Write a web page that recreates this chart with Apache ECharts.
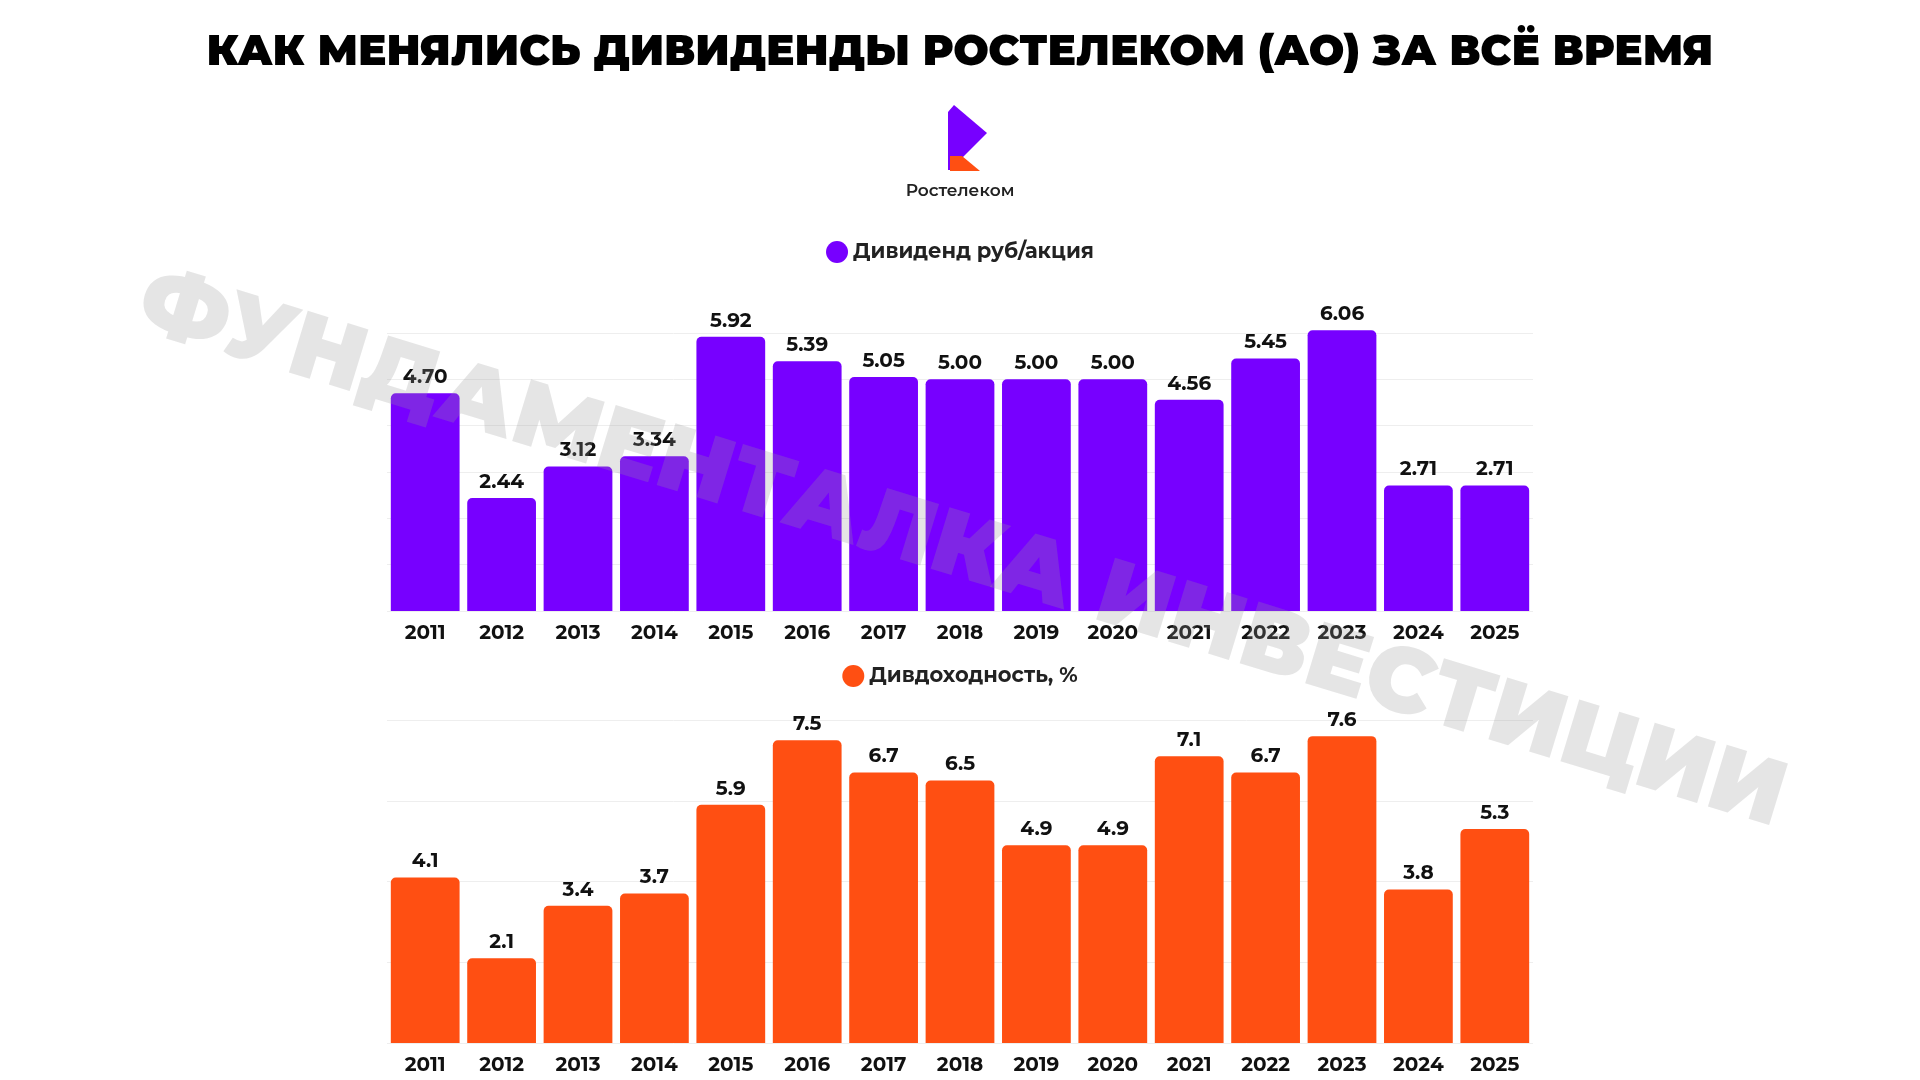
<!DOCTYPE html>
<html>
<head>
<meta charset="utf-8">
<script src="https://cdn.jsdelivr.net/npm/echarts@6/dist/echarts.min.js"></script>
<style>
  html, body { margin: 0; padding: 0; background: #fff; }
  #chart { width: 1920px; height: 1080px; }
</style>
</head>
<body>
<div id="chart"></div>
<script>
var years = ['2011', '2012', '2013', '2014', '2015', '2016', '2017', '2018', '2019', '2020', '2021', '2022', '2023', '2024', '2025'];
var dividend = [4.70, 2.44, 3.12, 3.34, 5.92, 5.39, 5.05, 5.00, 5.00, 5.00, 4.56, 5.45, 6.06, 2.71, 2.71];
var yieldPct = [4.1, 2.1, 3.4, 3.7, 5.9, 7.5, 6.7, 6.5, 4.9, 4.9, 7.1, 6.7, 7.6, 3.8, 5.3];

var purple = '#7700ff';
var orange = '#ff4f12';
var font = 'Montserrat, "Noto Sans", sans-serif';

var myChart = echarts.init(document.getElementById('chart'));

function xAxisOf(idx) {
    return {
        type: 'category', gridIndex: idx, data: years,
        axisLine: { show: false }, axisTick: { show: false },
        axisLabel: { color: '#111', fontSize: 20, fontWeight: 'bold', fontFamily: font, margin: 12 }
    };
}
function yAxisOf(idx, max, interval) {
    return {
        type: 'value', gridIndex: idx, min: 0, max: max, interval: interval,
        axisLabel: { show: false }, axisLine: { show: false }, axisTick: { show: false },
        splitLine: { lineStyle: { color: '#eeeeee', width: 1 } }
    };
}
function barOf(name, idx, data, color, digits) {
    return {
        name: name, type: 'bar', xAxisIndex: idx, yAxisIndex: idx, data: data,
        barCategoryGap: '10%', clip: false,
        itemStyle: { color: color, borderRadius: [5, 5, 0, 0] },
        label: {
            show: true, position: 'top', distance: 6, color: '#111',
            fontSize: 20, fontWeight: 'bold', fontFamily: font,
            formatter: function (p) { return p.value.toFixed(digits); }
        }
    };
}

option = {
    backgroundColor: '#fff',
    title: {
        text: 'КАК МЕНЯЛИСЬ ДИВИДЕНДЫ РОСТЕЛЕКОМ (АО) ЗА ВСЁ ВРЕМЯ',
        left: 'center', top: 27,
        textStyle: { fontSize: 42, fontWeight: 900, color: '#000', fontFamily: font }
    },
    legend: [
        { data: ['Дивиденд руб/акция'], top: 236, left: 'center', icon: 'circle', itemWidth: 22, itemHeight: 22,
          textStyle: { fontSize: 21, fontWeight: 'bold', color: '#222', fontFamily: font } },
        { data: ['Дивдоходность, %'], top: 660, left: 'center', icon: 'circle', itemWidth: 22, itemHeight: 22,
          textStyle: { fontSize: 21, fontWeight: 'bold', color: '#222', fontFamily: font } }
    ],
    grid: [
        { left: 387, right: 387, top: 333, height: 278 },
        { left: 387, right: 387, top: 720, height: 323 }
    ],
    xAxis: [xAxisOf(0), xAxisOf(1)],
    yAxis: [yAxisOf(0, 6, 1), yAxisOf(1, 8, 2)],
    series: [
        barOf('Дивиденд руб/акция', 0, dividend, purple, 2),
        barOf('Дивдоходность, %', 1, yieldPct, orange, 1)
    ],
    graphic: [
        { type: 'polygon', z: 10, shape: { points: [[948, 112], [954, 105], [987, 133], [950, 170], [948, 170]] }, style: { fill: purple } },
        { type: 'polygon', z: 11, shape: { points: [[950, 156], [962, 156], [980, 171], [950, 171]] }, style: { fill: orange } },
        { type: 'text', z: 10, left: 'center', top: 182, style: { text: 'Ростелеком', fontSize: 17, fontWeight: 600, fill: '#222', fontFamily: font } },
        { type: 'text', z: 100, x: 962, y: 550, rotation: -17 * Math.PI / 180,
          style: { text: 'ФУНДАМЕНТАЛКА ИНВЕСТИЦИИ', fontSize: 92, fontWeight: 900, fill: 'rgba(150,150,150,0.25)',
                   fontFamily: font, align: 'center', verticalAlign: 'middle' } }
    ]
};

myChart.setOption(option);
</script>
</body>
</html>
